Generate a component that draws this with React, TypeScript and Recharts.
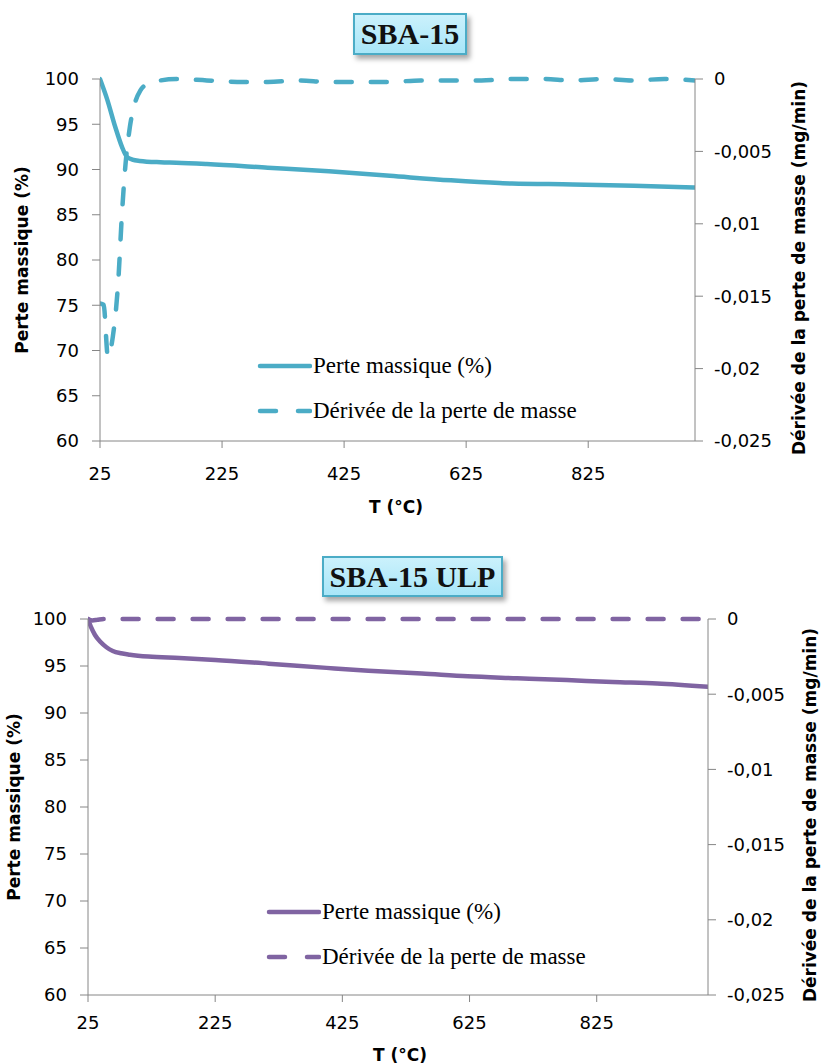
import React from "react";
import { ComposedChart, Line, XAxis, YAxis, Legend } from "recharts";

const xTicks = [25, 225, 425, 625, 825];
const leftTicks = [60, 65, 70, 75, 80, 85, 90, 95, 100];
const rightTicks = [-0.025, -0.02, -0.015, -0.01, -0.005, 0];
const legendNames = ["Perte massique (%)", "Dérivée de la perte de masse"];

// SBA-15
const sbaMassT = [25, 37, 50, 61, 69, 78, 90, 124, 150, 200, 300, 400, 500, 600, 680, 700, 800, 900, 1000];
const sbaMass = [100, 97.7, 94.7, 92.5, 91.4, 91.1, 90.95, 90.8, 90.75, 90.6, 90.2, 89.8, 89.3, 88.8, 88.5, 88.45, 88.35, 88.2, 88.0];
const sbaDerivT = [25, 31, 38, 46, 55, 61, 66, 74, 82, 91, 105, 124, 150, 200, 250, 300, 350, 400, 450, 500, 550, 600, 650, 700, 750, 800, 850, 900, 950, 1000];
const sbaDeriv = [-0.0155, -0.0156, -0.0192, -0.0178, -0.0139, -0.0093, -0.0063, -0.0033, -0.0017, -0.0008, -0.0003, -0.0001, 0, -0.0001, -0.0002, -0.0002, -0.0001, -0.0002, -0.0002, -0.0002, -0.0001, -0.0001, -0.0001, 0, 0, -0.0001, 0, -0.0001, 0, -0.0001];

// SBA-15 ULP
const ulpMassT = [25, 30, 36, 44, 54, 64, 77, 91, 120, 169, 225, 309, 400, 466, 550, 622, 700, 778, 850, 920, 1000];
const ulpMass = [100, 99.1, 98.3, 97.6, 97.0, 96.6, 96.35, 96.2, 96.0, 95.85, 95.65, 95.25, 94.8, 94.5, 94.2, 93.9, 93.7, 93.5, 93.3, 93.15, 92.8];
const ulpDerivT = [25, 32, 40, 50, 100, 200, 300, 400, 500, 600, 700, 800, 900, 1000];
const ulpDeriv = [0, -0.0001, -0.00005, 0, 0, 0, 0, 0, 0, 0, 0, 0, 0, 0];

const toRows = (t: number[], v: number[]) => t.map((x, i) => ({ t: x, v: v[i] }));

const axisGray = "#868686";
const tickFont = { fill: "#000", fontSize: 18, fontFamily: "DejaVu Sans" };
const titleFont = { fontFamily: "DejaVu Sans", fontWeight: "bold" as const, fontSize: 17, fill: "#000" };

const fmt = (v: number) => (v === 0 ? "0" : String(v).replace(".", ","));

function vTitle(x: number, y: number, text: string) {
  return () => (
    <text x={x} y={y} transform={`rotate(-90 ${x} ${y})`} textAnchor="middle" dominantBaseline="central" style={titleFont}>
      {text}
    </text>
  );
}

function hTitle(x: number, y: number, text: string) {
  return () => (
    <text x={x} y={y} textAnchor="middle" dominantBaseline="central" style={titleFont}>
      {text}
    </text>
  );
}

function legendContent(color: string) {
  return () => (
    <div style={{ fontFamily: "Liberation Serif", fontSize: 23, color: "#000" }}>
      {legendNames.map((name, i) => (
        <div key={name} style={{ display: "flex", alignItems: "center", height: 45 }}>
          <svg width={56} height={10} style={{ marginRight: 1 }}>
            <line x1={4} x2={54} y1={5} y2={5} stroke={color} strokeWidth={4.5} strokeLinecap="round"
              strokeDasharray={i === 1 ? "16 22" : undefined} />
          </svg>
          <span style={{ lineHeight: "23px" }}>{name}</span>
        </div>
      ))}
    </div>
  );
}

type PanelProps = {
  top: number;
  title: string;
  box: { left: number; top: number; width: number; height: number };
  color: string;
  mass: { t: number; v: number }[];
  deriv: { t: number; v: number }[];
  leftW: number;
  rightW: number;
  bottom: number;
  xTickMargin: number;
  leftTitleX: number;
  rightTitleX: number;
  xTitle: { x: number; y: number };
  legend: { left: number; top: number };
};

function Panel(p: PanelProps) {
  const H = 530;
  const plotTop = 79;
  const plotBottom = H - p.bottom - 60;
  const midY = (plotTop + plotBottom) / 2;
  return (
    <div style={{ position: "absolute", left: 0, top: p.top, width: 821, height: H }}>
      <ComposedChart width={821} height={H} margin={{ top: plotTop, right: 0, bottom: p.bottom, left: 0 }}>
        <XAxis dataKey="t" type="number" domain={[25, 1000]} ticks={xTicks} allowDataOverflow
          height={60} stroke={axisGray} tickSize={7} tickMargin={p.xTickMargin} tick={tickFont}
          label={{ content: hTitle(p.xTitle.x, p.xTitle.y - p.top, "T (°C)") }} />
        <YAxis yAxisId="left" type="number" domain={[60, 100]} ticks={leftTicks} width={p.leftW}
          stroke={axisGray} tickSize={8} tickMargin={13} tick={tickFont}
          label={{ content: vTitle(p.leftTitleX, midY, "Perte massique (%)") }} />
        <YAxis yAxisId="right" orientation="right" type="number" domain={[-0.025, 0]} ticks={rightTicks}
          width={p.rightW} stroke={axisGray} tickSize={8} tickMargin={11} tick={tickFont} tickFormatter={fmt}
          label={{ content: vTitle(p.rightTitleX, midY + 8, "Dérivée de la perte de masse (mg/min)") }} />
        <Line yAxisId="left" data={p.mass} dataKey="v" type="monotone" stroke={p.color} strokeWidth={4.5}
          dot={false} isAnimationActive={false} strokeLinecap="round" />
        <Line yAxisId="right" data={p.deriv} dataKey="v" type="monotone" stroke={p.color} strokeWidth={4.5}
          strokeDasharray="16 19" strokeLinecap="round" dot={false} isAnimationActive={false} />
        <Legend layout="horizontal" verticalAlign="middle" align="center" content={legendContent(p.color)}
          wrapperStyle={{ left: p.legend.left, top: p.legend.top - p.top, width: 400 }} />
      </ComposedChart>
      <div
        style={{
          position: "absolute",
          left: p.box.left,
          top: p.box.top - p.top,
          width: p.box.width,
          height: p.box.height,
          boxSizing: "border-box",
          border: "2px solid #4bacc6",
          background: "linear-gradient(#cbf1fc, #a8e6f8)",
          boxShadow: "3px 4px 5px rgba(0,0,0,0.35)",
          display: "flex",
          alignItems: "center",
          justifyContent: "center",
          fontFamily: "Liberation Serif",
          fontWeight: "bold",
          fontSize: 30,
          color: "#111",
        }}
      >
        {p.title}
      </div>
    </div>
  );
}

export default function App() {
  return (
    <div style={{ position: "absolute", left: 0, top: 0, width: 821, height: 1064, background: "#fff" }}>
      <Panel
        top={0}
        title="SBA-15"
        box={{ left: 353, top: 13, width: 114, height: 42 }}
        color="#4bacc6"
        mass={toRows(sbaMassT, sbaMass)}
        deriv={toRows(sbaDerivT, sbaDeriv)}
        leftW={100}
        rightW={126}
        bottom={29}
        xTickMargin={19}
        leftTitleX={22}
        rightTitleX={799}
        xTitle={{ x: 396, y: 507 }}
        legend={{ left: 256, top: 343 }}
      />
      <Panel
        top={540}
        title="SBA-15 ULP"
        box={{ left: 322, top: 556, width: 181, height: 41 }}
        color="#8064a2"
        mass={toRows(ulpMassT, ulpMass)}
        deriv={toRows(ulpDerivT, ulpDeriv)}
        leftW={88}
        rightW={113}
        bottom={15}
        xTickMargin={14}
        leftTitleX={14}
        rightTitleX={810}
        xTitle={{ x: 400, y: 1055 }}
        legend={{ left: 265, top: 889 }}
      />
    </div>
  );
}
